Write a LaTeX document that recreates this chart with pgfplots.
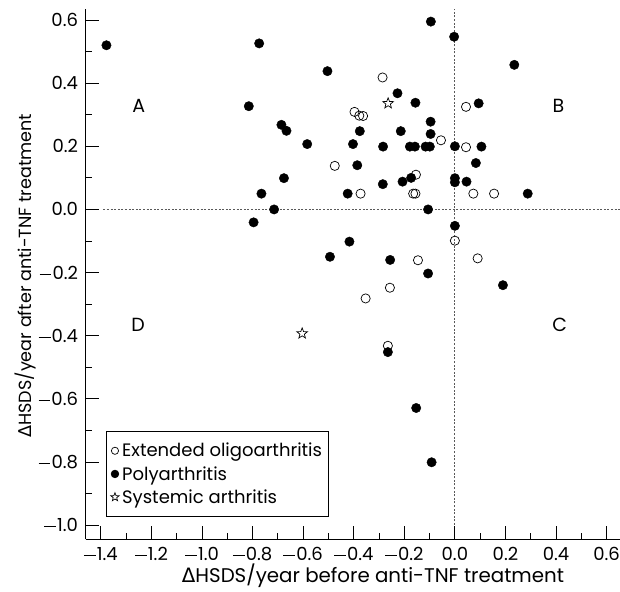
\documentclass[border=0pt]{standalone}
\usepackage{fontspec}
\setmainfont{Poppins}
\newfontfamily\dvs{DejaVu Sans}
\usepackage{pgfplots}
\pgfplotsset{compat=1.18}
\usetikzlibrary{calc}

% outlined five-pointed star
\pgfdeclareplotmark{ostar}{%
  \pgfpathmoveto{\pgfpointpolar{90}{\pgfplotmarksize}}%
  \pgfpathlineto{\pgfpointpolar{126}{0.42\pgfplotmarksize}}%
  \pgfpathlineto{\pgfpointpolar{162}{\pgfplotmarksize}}%
  \pgfpathlineto{\pgfpointpolar{198}{0.42\pgfplotmarksize}}%
  \pgfpathlineto{\pgfpointpolar{234}{\pgfplotmarksize}}%
  \pgfpathlineto{\pgfpointpolar{270}{0.42\pgfplotmarksize}}%
  \pgfpathlineto{\pgfpointpolar{306}{\pgfplotmarksize}}%
  \pgfpathlineto{\pgfpointpolar{342}{0.42\pgfplotmarksize}}%
  \pgfpathlineto{\pgfpointpolar{18}{\pgfplotmarksize}}%
  \pgfpathlineto{\pgfpointpolar{54}{0.42\pgfplotmarksize}}%
  \pgfpathclose
  \pgfusepathqstroke}

\pgfplotsset{
  smallimg/.style={legend image code/.code={\draw[##1, mark size=#1] plot coordinates {(0bp,0bp)};}},
}

\newcommand{\tickfont}{\fontsize{18bp}{21bp}\selectfont}
\newcommand{\mn}{\rule[0.25em]{0.66em}{0.06em}\hspace{0.06em}}

\begin{document}
\begin{tikzpicture}
\begin{axis}[
    name=ax,
    scale only axis,
    width=534.3bp, height=530bp,
    xmin=-1.46, xmax=0.653,
    ymin=-1.045, ymax=0.634,
    axis x line=bottom, axis y line=left,
    axis line style={-, line width=0.9bp},
    tick style={black, line width=0.9bp},
    tick align=inside,
    major tick length=13bp, minor tick length=6bp,
    xtick={-1.4,-1.2,-1.0,-0.8,-0.6,-0.4,-0.2,0,0.2,0.4,0.6},
    xticklabels={\mn1.4,\mn1.2,\mn1.0,\mn0.8,\mn0.6,\mn0.4,\mn0.2,0.0,0.2,0.4,0.6},
    ytick={-1.0,-0.8,-0.6,-0.4,-0.2,0,0.2,0.4,0.6},
    yticklabels={\mn1.0,\mn0.8,\mn0.6,\mn0.4,\mn0.2,0.0,0.2,0.4,0.6},
    minor tick num=1,
    xticklabel style={font=\tickfont, anchor=base, yshift=-21bp},
    yticklabel style={font=\tickfont, anchor=east, inner sep=0pt, xshift=-7.5bp},
    xlabel={{\dvs Δ}HSDS/year before anti-TNF treatment},
    ylabel={{\dvs Δ}HSDS/year after anti-TNF treatment},
    xlabel style={font=\fontsize{19.8bp}{23bp}\selectfont, at={(axis cs:-0.324,-1.181)}, anchor=base},
    ylabel style={font=\fontsize{17.6bp}{21bp}\selectfont, at={(axis cs:-1.673,-0.21)}, anchor=base},
    clip=false,
    legend style={at={(axis cs:-1.378,-0.703)}, anchor=north west,
        draw=black, line width=0.7bp, font=\fontsize{18bp}{21bp}\selectfont,
        inner xsep=4bp, inner ysep=9.5bp, row sep=4bp,
        /tikz/every odd column/.append style={column sep=1bp}},
    legend cell align=left,
]

% dotted reference lines
\draw[black!65, line width=0.9bp, dash pattern=on 2bp off 1.6bp]
    (axis cs:0,-1.0) -- (axis cs:0,0.634);
\draw[black!65, line width=0.9bp, dash pattern=on 2bp off 1.6bp]
    (axis cs:-1.39,0) -- (axis cs:0.653,0);

% Extended oligoarthritis
\addplot[only marks, mark=o, mark size=4.6bp, mark options={line width=0.7bp}, smallimg=3.6bp]
coordinates {
    (-0.286,0.418) (-0.397,0.309) (-0.378,0.297) (-0.363,0.296)
    (-0.055,0.219) (-0.475,0.138) (-0.154,0.110) (-0.373,0.050)
    (-0.165,0.050) (-0.156,0.050) (0.044,0.325) (0.044,0.197)
    (0.073,0.050) (0.155,0.050) (0.000,-0.099) (-0.146,-0.161)
    (-0.257,-0.248) (-0.353,-0.282) (-0.265,-0.432) (0.090,-0.155)
};
\addlegendentry{Extended oligoarthritis}

% Polyarthritis
\addplot[only marks, mark=*, mark size=4.7bp, black, smallimg=3.8bp]
coordinates {
    (-1.378,0.520) (-0.774,0.526) (-0.815,0.327) (-0.686,0.268)
    (-0.666,0.249) (-0.765,0.050) (-0.715,0.000) (-0.796,-0.041)
    (-0.676,0.099) (-0.584,0.207) (-0.504,0.438) (-0.095,0.595)
    (-0.003,0.547) (-0.227,0.368) (-0.156,0.338) (-0.376,0.248)
    (-0.096,0.278) (-0.214,0.248) (-0.096,0.239) (-0.403,0.207)
    (-0.284,0.199) (-0.178,0.199) (-0.158,0.199) (-0.116,0.199)
    (-0.099,0.199) (0.000,0.200) (-0.386,0.140) (-0.173,0.100)
    (-0.207,0.088) (-0.285,0.080) (0.000,0.099) (0.000,0.086)
    (-0.424,0.050) (0.235,0.458) (0.094,0.336) (0.105,0.199)
    (0.083,0.147) (0.046,0.088) (0.288,0.050) (-0.106,0.000)
    (0.000,-0.052) (-0.417,-0.102) (-0.494,-0.150) (-0.256,-0.160)
    (-0.106,-0.203) (-0.265,-0.452) (-0.153,-0.629) (-0.092,-0.801)
    (0.190,-0.240)
};
\addlegendentry{Polyarthritis}

% Systemic arthritis
\addplot[only marks, mark=ostar, mark size=5.6bp, mark options={line width=0.7bp}, smallimg=4.4bp]
coordinates {
    (-0.264,0.336) (-0.604,-0.393)
};
\addlegendentry{Systemic arthritis}

% quadrant labels
\node[font=\fontsize{19bp}{22bp}\selectfont] at (axis cs:-1.25,0.327) {A};
\node[font=\fontsize{19bp}{22bp}\selectfont] at (axis cs:0.41,0.327) {B};
\node[font=\fontsize{19bp}{22bp}\selectfont] at (axis cs:0.415,-0.366) {C};
\node[font=\fontsize{19bp}{22bp}\selectfont] at (axis cs:-1.253,-0.366) {D};
\end{axis}
\pgfresetboundingbox
\path[use as bounding box] ($(ax.south west)+(-85.7bp,-52.7bp)$) rectangle ($(ax.north east)+(0bp,9.3bp)$);
\end{tikzpicture}
\end{document}
